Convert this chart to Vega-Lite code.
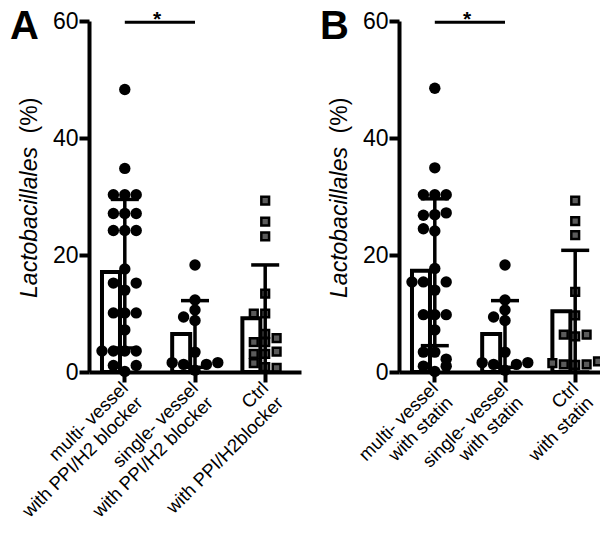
{
  "$schema": "https://vega.github.io/schema/vega-lite/v6.json",
  "padding": {"left": 10, "top": 6, "right": 0, "bottom": 0},
  "spacing": 19,
  "config": {
    "view": {"stroke": null},
    "font": "Liberation Sans",
    "axis": {"domainColor": "black", "domainWidth": 4, "tickColor": "black", "tickWidth": 4, "tickSize": 10, "labelColor": "black", "labelFont": "Liberation Sans", "titleFont": "Liberation Sans", "titleColor": "black", "grid": false}
  },
  "datasets": {
    "pts": [
      {"panel": "A", "group": "multi- vessel|with PPI/H2 blocker", "v": 48.3},
      {"panel": "A", "group": "multi- vessel|with PPI/H2 blocker", "v": 34.8},
      {"panel": "A", "group": "multi- vessel|with PPI/H2 blocker", "v": 30.3},
      {"panel": "A", "group": "multi- vessel|with PPI/H2 blocker", "v": 30.3},
      {"panel": "A", "group": "multi- vessel|with PPI/H2 blocker", "v": 30.3},
      {"panel": "A", "group": "multi- vessel|with PPI/H2 blocker", "v": 27.1},
      {"panel": "A", "group": "multi- vessel|with PPI/H2 blocker", "v": 27.1},
      {"panel": "A", "group": "multi- vessel|with PPI/H2 blocker", "v": 27.1},
      {"panel": "A", "group": "multi- vessel|with PPI/H2 blocker", "v": 24.2},
      {"panel": "A", "group": "multi- vessel|with PPI/H2 blocker", "v": 24.2},
      {"panel": "A", "group": "multi- vessel|with PPI/H2 blocker", "v": 24.2},
      {"panel": "A", "group": "multi- vessel|with PPI/H2 blocker", "v": 17.6},
      {"panel": "A", "group": "multi- vessel|with PPI/H2 blocker", "v": 14.0},
      {"panel": "A", "group": "multi- vessel|with PPI/H2 blocker", "v": 15.2},
      {"panel": "A", "group": "multi- vessel|with PPI/H2 blocker", "v": 15.2},
      {"panel": "A", "group": "multi- vessel|with PPI/H2 blocker", "v": 10.1},
      {"panel": "A", "group": "multi- vessel|with PPI/H2 blocker", "v": 10.1},
      {"panel": "A", "group": "multi- vessel|with PPI/H2 blocker", "v": 10.1},
      {"panel": "A", "group": "multi- vessel|with PPI/H2 blocker", "v": 7.2},
      {"panel": "A", "group": "multi- vessel|with PPI/H2 blocker", "v": 3.6},
      {"panel": "A", "group": "multi- vessel|with PPI/H2 blocker", "v": 3.6},
      {"panel": "A", "group": "multi- vessel|with PPI/H2 blocker", "v": 3.6},
      {"panel": "A", "group": "multi- vessel|with PPI/H2 blocker", "v": 3.6},
      {"panel": "A", "group": "multi- vessel|with PPI/H2 blocker", "v": 0.1},
      {"panel": "A", "group": "multi- vessel|with PPI/H2 blocker", "v": 1.1},
      {"panel": "A", "group": "multi- vessel|with PPI/H2 blocker", "v": 1.1},
      {"panel": "A", "group": "single- vessel|with PPI/H2 blocker", "v": 18.3},
      {"panel": "A", "group": "single- vessel|with PPI/H2 blocker", "v": 12.3},
      {"panel": "A", "group": "single- vessel|with PPI/H2 blocker", "v": 10.6},
      {"panel": "A", "group": "single- vessel|with PPI/H2 blocker", "v": 8.8},
      {"panel": "A", "group": "single- vessel|with PPI/H2 blocker", "v": 9.4},
      {"panel": "A", "group": "single- vessel|with PPI/H2 blocker", "v": 3.4},
      {"panel": "A", "group": "single- vessel|with PPI/H2 blocker", "v": 0.3},
      {"panel": "A", "group": "single- vessel|with PPI/H2 blocker", "v": 1.3},
      {"panel": "A", "group": "single- vessel|with PPI/H2 blocker", "v": 1.3},
      {"panel": "A", "group": "single- vessel|with PPI/H2 blocker", "v": 1.6},
      {"panel": "A", "group": "single- vessel|with PPI/H2 blocker", "v": 1.6},
      {"panel": "A", "group": "Ctrl|with PPI/H2blocker", "v": 29.3},
      {"panel": "A", "group": "Ctrl|with PPI/H2blocker", "v": 25.7},
      {"panel": "A", "group": "Ctrl|with PPI/H2blocker", "v": 23.2},
      {"panel": "A", "group": "Ctrl|with PPI/H2blocker", "v": 13.4},
      {"panel": "A", "group": "Ctrl|with PPI/H2blocker", "v": 10.0},
      {"panel": "A", "group": "Ctrl|with PPI/H2blocker", "v": 10.0},
      {"panel": "A", "group": "Ctrl|with PPI/H2blocker", "v": 6.5},
      {"panel": "A", "group": "Ctrl|with PPI/H2blocker", "v": 5.1},
      {"panel": "A", "group": "Ctrl|with PPI/H2blocker", "v": 5.1},
      {"panel": "A", "group": "Ctrl|with PPI/H2blocker", "v": 5.8},
      {"panel": "A", "group": "Ctrl|with PPI/H2blocker", "v": 3.1},
      {"panel": "A", "group": "Ctrl|with PPI/H2blocker", "v": 3.1},
      {"panel": "A", "group": "Ctrl|with PPI/H2blocker", "v": 3.5},
      {"panel": "A", "group": "Ctrl|with PPI/H2blocker", "v": 0.85},
      {"panel": "A", "group": "Ctrl|with PPI/H2blocker", "v": 1.5},
      {"panel": "A", "group": "Ctrl|with PPI/H2blocker", "v": 0.7},
      {"panel": "B", "group": "multi- vessel|with statin", "v": 48.5},
      {"panel": "B", "group": "multi- vessel|with statin", "v": 34.9},
      {"panel": "B", "group": "multi- vessel|with statin", "v": 30.3},
      {"panel": "B", "group": "multi- vessel|with statin", "v": 30.3},
      {"panel": "B", "group": "multi- vessel|with statin", "v": 30.3},
      {"panel": "B", "group": "multi- vessel|with statin", "v": 26.9},
      {"panel": "B", "group": "multi- vessel|with statin", "v": 26.8},
      {"panel": "B", "group": "multi- vessel|with statin", "v": 27.2},
      {"panel": "B", "group": "multi- vessel|with statin", "v": 24.1},
      {"panel": "B", "group": "multi- vessel|with statin", "v": 24.5},
      {"panel": "B", "group": "multi- vessel|with statin", "v": 17.7},
      {"panel": "B", "group": "multi- vessel|with statin", "v": 14.0},
      {"panel": "B", "group": "multi- vessel|with statin", "v": 15.4},
      {"panel": "B", "group": "multi- vessel|with statin", "v": 15.4},
      {"panel": "B", "group": "multi- vessel|with statin", "v": 15.4},
      {"panel": "B", "group": "multi- vessel|with statin", "v": 9.8},
      {"panel": "B", "group": "multi- vessel|with statin", "v": 9.8},
      {"panel": "B", "group": "multi- vessel|with statin", "v": 9.8},
      {"panel": "B", "group": "multi- vessel|with statin", "v": 7.2},
      {"panel": "B", "group": "multi- vessel|with statin", "v": 3.4},
      {"panel": "B", "group": "multi- vessel|with statin", "v": 3.4},
      {"panel": "B", "group": "multi- vessel|with statin", "v": 2.2},
      {"panel": "B", "group": "multi- vessel|with statin", "v": 0.1},
      {"panel": "B", "group": "multi- vessel|with statin", "v": 1.0},
      {"panel": "B", "group": "multi- vessel|with statin", "v": 1.0},
      {"panel": "B", "group": "single- vessel|with statin", "v": 18.3},
      {"panel": "B", "group": "single- vessel|with statin", "v": 12.3},
      {"panel": "B", "group": "single- vessel|with statin", "v": 10.6},
      {"panel": "B", "group": "single- vessel|with statin", "v": 8.8},
      {"panel": "B", "group": "single- vessel|with statin", "v": 9.4},
      {"panel": "B", "group": "single- vessel|with statin", "v": 3.4},
      {"panel": "B", "group": "single- vessel|with statin", "v": 0.3},
      {"panel": "B", "group": "single- vessel|with statin", "v": 1.3},
      {"panel": "B", "group": "single- vessel|with statin", "v": 1.3},
      {"panel": "B", "group": "single- vessel|with statin", "v": 1.6},
      {"panel": "B", "group": "single- vessel|with statin", "v": 1.6},
      {"panel": "B", "group": "Ctrl|with statin", "v": 29.3},
      {"panel": "B", "group": "Ctrl|with statin", "v": 25.8},
      {"panel": "B", "group": "Ctrl|with statin", "v": 23.4},
      {"panel": "B", "group": "Ctrl|with statin", "v": 13.7},
      {"panel": "B", "group": "Ctrl|with statin", "v": 9.7},
      {"panel": "B", "group": "Ctrl|with statin", "v": 6.1},
      {"panel": "B", "group": "Ctrl|with statin", "v": 6.4},
      {"panel": "B", "group": "Ctrl|with statin", "v": 6.4},
      {"panel": "B", "group": "Ctrl|with statin", "v": 1.2},
      {"panel": "B", "group": "Ctrl|with statin", "v": 1.3},
      {"panel": "B", "group": "Ctrl|with statin", "v": 1.3},
      {"panel": "B", "group": "Ctrl|with statin", "v": 1.5},
      {"panel": "B", "group": "Ctrl|with statin", "v": 1.8}
    ],
    "bars": [
      {"panel": "A", "group": "multi- vessel|with PPI/H2 blocker", "l1": "multi- vessel", "l2": "with PPI/H2 blocker", "mean": 17.1, "lo": 4.1, "hi": 29.5},
      {"panel": "A", "group": "single- vessel|with PPI/H2 blocker", "l1": "single- vessel", "l2": "with PPI/H2 blocker", "mean": 6.5, "lo": 0.8, "hi": 12.2},
      {"panel": "A", "group": "Ctrl|with PPI/H2blocker", "l1": "Ctrl", "l2": "with PPI/H2blocker", "mean": 9.2, "lo": 0, "hi": 18.3},
      {"panel": "B", "group": "multi- vessel|with statin", "l1": "multi- vessel", "l2": "with statin", "mean": 17.3, "lo": 4.5, "hi": 29.6},
      {"panel": "B", "group": "single- vessel|with statin", "l1": "single- vessel", "l2": "with statin", "mean": 6.5, "lo": 0.8, "hi": 12.2},
      {"panel": "B", "group": "Ctrl|with statin", "l1": "Ctrl", "l2": "with statin", "mean": 10.4, "lo": 0, "hi": 20.8}
    ],
    "sig": [
      {"panel": "A", "from": "multi- vessel|with PPI/H2 blocker", "to": "single- vessel|with PPI/H2 blocker", "y": 59.8, "ystar": 59.2, "label": "*"},
      {"panel": "B", "from": "multi- vessel|with statin", "to": "single- vessel|with statin", "y": 59.8, "ystar": 59.2, "label": "*"}
    ]
  },
  "hconcat": [
    {
      "title": {"text": "A", "anchor": "start", "frame": "bounds", "fontSize": 40, "fontWeight": "bold", "font": "Liberation Sans", "color": "black", "offset": 0, "dy": 38, "dx": -8},
      "width": 212,
      "height": 351,
      "resolve": {"axis": {"y": "independent"}},
      "layer": [
        {
          "data": {"name": "bars"},
          "transform": [{"filter": "datum.panel === 'A'"}],
          "mark": {"type": "bar", "fill": "white", "stroke": "black", "strokeWidth": 4},
          "encoding": {
            "x": {"field": "group", "type": "nominal", "sort": null, "title": null,
                  "scale": {"type": "band", "domain": ["multi- vessel|with PPI/H2 blocker", "single- vessel|with PPI/H2 blocker", "Ctrl|with PPI/H2blocker"], "paddingInner": 0.35, "paddingOuter": 0.185},
                  "axis": {"title": null, "labels": false, "labelExpr": "''"}},
            "y": {"field": "mean", "type": "quantitative", "scale": {"domain": [0, 60], "nice": false},
                  "axis": {"values": [0, 20, 40, 60], "title": "Lactobacillales", "titleFontStyle": "italic", "titleFontWeight": "normal", "titleFontSize": 23, "titleX": -53, "titleY": 201, "titleAngle": -90, "titleAlign": "center", "titleBaseline": "alphabetic", "labelFontSize": 23, "labelPadding": 1}}
          }
        },
        {
          "data": {"name": "pts"},
          "transform": [
            {"filter": "datum.panel === 'A' && indexof(datum.group, 'Ctrl') < 0"},
            {"bin": {"step": 2, "anchor": 0}, "field": "v", "as": "vb"},
            {"window": [{"op": "row_number", "as": "slot"}], "groupby": ["group", "vb"]}
          ],
          "mark": {"type": "point", "shape": "circle", "filled": true, "color": "black", "size": 130, "opacity": 1},
          "encoding": {
            "x": {"field": "group", "type": "nominal", "sort": null, "title": null},
            "xOffset": {"field": "slot", "type": "nominal", "scale": {"type": "point", "domain": [4, 2, 1, 3, 5], "padding": 0}},
            "y": {"field": "v", "type": "quantitative",
                  "axis": {"title": "(%)", "orient": "left", "labels": false, "ticks": false, "domain": false, "titleFontWeight": "normal", "titleFontSize": 23, "titleX": -53, "titleY": 94, "titleAngle": -90, "titleAlign": "center", "titleBaseline": "alphabetic"}}
          }
        },
        {
          "data": {"name": "pts"},
          "transform": [
            {"filter": "datum.panel === 'A' && indexof(datum.group, 'Ctrl') >= 0"},
            {"bin": {"step": 2, "anchor": 0}, "field": "v", "as": "vb"},
            {"window": [{"op": "row_number", "as": "slot"}], "groupby": ["group", "vb"]}
          ],
          "mark": {"type": "point", "shape": "square", "filled": true, "fill": "#5a5a5a", "stroke": "black", "strokeWidth": 2.5, "size": 60, "opacity": 1},
          "encoding": {
            "x": {"field": "group", "type": "nominal", "sort": null, "title": null},
            "xOffset": {"field": "slot", "type": "nominal", "scale": {"type": "point", "domain": [4, 2, 1, 3, 5], "padding": 0}},
            "y": {"field": "v", "type": "quantitative", "axis": null}
          }
        },
        {
          "data": {"name": "bars"},
          "transform": [{"filter": "datum.panel === 'A'"}],
          "mark": {"type": "rule", "color": "black", "strokeWidth": 3.5},
          "encoding": {
            "x": {"field": "group", "type": "nominal", "sort": null, "title": null},
            "y": {"field": "lo", "type": "quantitative", "axis": null},
            "y2": {"field": "hi"}
          }
        },
        {
          "data": {"name": "bars"},
          "transform": [{"filter": "datum.panel === 'A'"}],
          "mark": {"type": "tick", "color": "black", "thickness": 3.5, "size": 28, "opacity": 1},
          "encoding": {
            "x": {"field": "group", "type": "nominal", "sort": null, "title": null},
            "y": {"field": "hi", "type": "quantitative", "axis": null}
          }
        },
        {
          "data": {"name": "bars"},
          "transform": [{"filter": "datum.panel === 'A'"}],
          "mark": {"type": "tick", "color": "black", "thickness": 3.5, "size": 28, "opacity": 1},
          "encoding": {
            "x": {"field": "group", "type": "nominal", "sort": null, "title": null},
            "y": {"field": "lo", "type": "quantitative", "axis": null}
          }
        },
        {
          "data": {"name": "bars"},
          "transform": [{"filter": "datum.panel === 'A'"}],
          "mark": {"type": "text", "color": "black", "font": "Liberation Sans", "fontSize": 18.5, "angle": -45, "align": "right", "baseline": "middle", "radius": 13, "theta": 3.14159},
          "encoding": {
            "x": {"field": "group", "type": "nominal", "sort": null, "title": null},
            "y": {"datum": 0, "type": "quantitative", "axis": null},
            "text": {"field": "l1"}
          }
        },
        {
          "data": {"name": "bars"},
          "transform": [{"filter": "datum.panel === 'A'"}],
          "mark": {"type": "text", "color": "black", "font": "Liberation Sans", "fontSize": 18.5, "angle": -45, "align": "right", "baseline": "middle", "radius": 13, "theta": 3.14159, "dy": 21},
          "encoding": {
            "x": {"field": "group", "type": "nominal", "sort": null, "title": null},
            "y": {"datum": 0, "type": "quantitative", "axis": null},
            "text": {"field": "l2"}
          }
        },
        {
          "data": {"name": "sig"},
          "transform": [{"filter": "datum.panel === 'A'"}],
          "mark": {"type": "rule", "color": "black", "strokeWidth": 3, "clip": false},
          "encoding": {
            "x": {"field": "from", "type": "nominal", "sort": null, "bandPosition": 0.5, "title": null},
            "x2": {"field": "to", "bandPosition": 0.5},
            "y": {"field": "y", "type": "quantitative", "axis": null}
          }
        },
        {
          "data": {"name": "sig"},
          "transform": [{"filter": "datum.panel === 'A'"}],
          "mark": {"type": "text", "color": "black", "fontSize": 21, "fontWeight": "bold", "font": "Liberation Sans", "baseline": "alphabetic", "align": "center"},
          "encoding": {
            "x": {"field": "from", "type": "nominal", "sort": null, "bandPosition": 1.21, "title": null},
            "y": {"field": "ystar", "type": "quantitative", "axis": null},
            "text": {"field": "label"}
          }
        }
      ]
    },
    {
      "title": {"text": "B", "anchor": "start", "frame": "bounds", "fontSize": 40, "fontWeight": "bold", "font": "Liberation Sans", "color": "black", "offset": 0, "dy": 38, "dx": -8},
      "width": 212,
      "height": 351,
      "resolve": {"axis": {"y": "independent"}},
      "layer": [
        {
          "data": {"name": "bars"},
          "transform": [{"filter": "datum.panel === 'B'"}],
          "mark": {"type": "bar", "fill": "white", "stroke": "black", "strokeWidth": 4},
          "encoding": {
            "x": {"field": "group", "type": "nominal", "sort": null, "title": null,
                  "scale": {"type": "band", "domain": ["multi- vessel|with statin", "single- vessel|with statin", "Ctrl|with statin"], "paddingInner": 0.35, "paddingOuter": 0.185},
                  "axis": {"title": null, "labels": false, "labelExpr": "''"}},
            "y": {"field": "mean", "type": "quantitative", "scale": {"domain": [0, 60], "nice": false},
                  "axis": {"values": [0, 20, 40, 60], "title": "Lactobacillales", "titleFontStyle": "italic", "titleFontWeight": "normal", "titleFontSize": 23, "titleX": -53, "titleY": 201, "titleAngle": -90, "titleAlign": "center", "titleBaseline": "alphabetic", "labelFontSize": 23, "labelPadding": 1}}
          }
        },
        {
          "data": {"name": "pts"},
          "transform": [
            {"filter": "datum.panel === 'B' && indexof(datum.group, 'Ctrl') < 0"},
            {"bin": {"step": 2, "anchor": 0}, "field": "v", "as": "vb"},
            {"window": [{"op": "row_number", "as": "slot"}], "groupby": ["group", "vb"]}
          ],
          "mark": {"type": "point", "shape": "circle", "filled": true, "color": "black", "size": 130, "opacity": 1},
          "encoding": {
            "x": {"field": "group", "type": "nominal", "sort": null, "title": null},
            "xOffset": {"field": "slot", "type": "nominal", "scale": {"type": "point", "domain": [4, 2, 1, 3, 5], "padding": 0}},
            "y": {"field": "v", "type": "quantitative",
                  "axis": {"title": "(%)", "orient": "left", "labels": false, "ticks": false, "domain": false, "titleFontWeight": "normal", "titleFontSize": 23, "titleX": -53, "titleY": 94, "titleAngle": -90, "titleAlign": "center", "titleBaseline": "alphabetic"}}
          }
        },
        {
          "data": {"name": "pts"},
          "transform": [
            {"filter": "datum.panel === 'B' && indexof(datum.group, 'Ctrl') >= 0"},
            {"bin": {"step": 2, "anchor": 0}, "field": "v", "as": "vb"},
            {"window": [{"op": "row_number", "as": "slot"}], "groupby": ["group", "vb"]}
          ],
          "mark": {"type": "point", "shape": "square", "filled": true, "fill": "#5a5a5a", "stroke": "black", "strokeWidth": 2.5, "size": 60, "opacity": 1},
          "encoding": {
            "x": {"field": "group", "type": "nominal", "sort": null, "title": null},
            "xOffset": {"field": "slot", "type": "nominal", "scale": {"type": "point", "domain": [4, 2, 1, 3, 5], "padding": 0}},
            "y": {"field": "v", "type": "quantitative", "axis": null}
          }
        },
        {
          "data": {"name": "bars"},
          "transform": [{"filter": "datum.panel === 'B'"}],
          "mark": {"type": "rule", "color": "black", "strokeWidth": 3.5},
          "encoding": {
            "x": {"field": "group", "type": "nominal", "sort": null, "title": null},
            "y": {"field": "lo", "type": "quantitative", "axis": null},
            "y2": {"field": "hi"}
          }
        },
        {
          "data": {"name": "bars"},
          "transform": [{"filter": "datum.panel === 'B'"}],
          "mark": {"type": "tick", "color": "black", "thickness": 3.5, "size": 28, "opacity": 1},
          "encoding": {
            "x": {"field": "group", "type": "nominal", "sort": null, "title": null},
            "y": {"field": "hi", "type": "quantitative", "axis": null}
          }
        },
        {
          "data": {"name": "bars"},
          "transform": [{"filter": "datum.panel === 'B'"}],
          "mark": {"type": "tick", "color": "black", "thickness": 3.5, "size": 28, "opacity": 1},
          "encoding": {
            "x": {"field": "group", "type": "nominal", "sort": null, "title": null},
            "y": {"field": "lo", "type": "quantitative", "axis": null}
          }
        },
        {
          "data": {"name": "bars"},
          "transform": [{"filter": "datum.panel === 'B'"}],
          "mark": {"type": "text", "color": "black", "font": "Liberation Sans", "fontSize": 18.5, "angle": -45, "align": "right", "baseline": "middle", "radius": 13, "theta": 3.14159},
          "encoding": {
            "x": {"field": "group", "type": "nominal", "sort": null, "title": null},
            "y": {"datum": 0, "type": "quantitative", "axis": null},
            "text": {"field": "l1"}
          }
        },
        {
          "data": {"name": "bars"},
          "transform": [{"filter": "datum.panel === 'B'"}],
          "mark": {"type": "text", "color": "black", "font": "Liberation Sans", "fontSize": 18.5, "angle": -45, "align": "right", "baseline": "middle", "radius": 13, "theta": 3.14159, "dy": 21},
          "encoding": {
            "x": {"field": "group", "type": "nominal", "sort": null, "title": null},
            "y": {"datum": 0, "type": "quantitative", "axis": null},
            "text": {"field": "l2"}
          }
        },
        {
          "data": {"name": "sig"},
          "transform": [{"filter": "datum.panel === 'B'"}],
          "mark": {"type": "rule", "color": "black", "strokeWidth": 3, "clip": false},
          "encoding": {
            "x": {"field": "from", "type": "nominal", "sort": null, "bandPosition": 0.5, "title": null},
            "x2": {"field": "to", "bandPosition": 0.5},
            "y": {"field": "y", "type": "quantitative", "axis": null}
          }
        },
        {
          "data": {"name": "sig"},
          "transform": [{"filter": "datum.panel === 'B'"}],
          "mark": {"type": "text", "color": "black", "fontSize": 21, "fontWeight": "bold", "font": "Liberation Sans", "baseline": "alphabetic", "align": "center"},
          "encoding": {
            "x": {"field": "from", "type": "nominal", "sort": null, "bandPosition": 1.21, "title": null},
            "y": {"field": "ystar", "type": "quantitative", "axis": null},
            "text": {"field": "label"}
          }
        }
      ]
    }
  ]
}
